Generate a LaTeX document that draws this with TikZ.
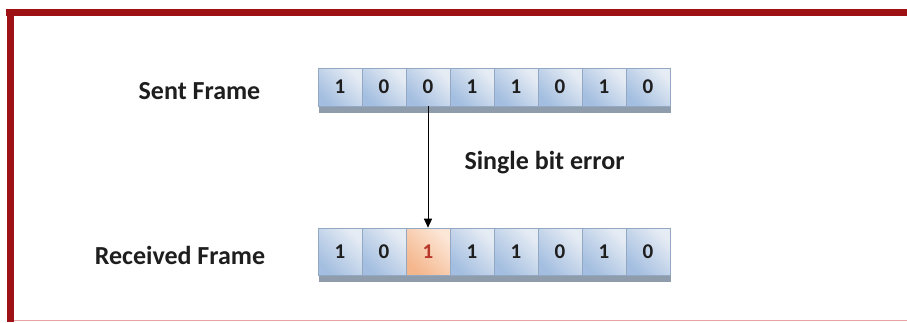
\documentclass[tikz,border=0pt]{standalone}
\usepackage{fontspec}
\setmainfont{Carlito}
\usetikzlibrary{shadows,arrows.meta}

\definecolor{framered}{HTML}{9E1215}
\definecolor{framepink}{HTML}{E9A3A3}
\definecolor{cellDark}{HTML}{A3BEE0}
\definecolor{cellLight}{HTML}{E6ECF4}
\definecolor{cellEdge}{HTML}{93A8C2}
\definecolor{cellShadow}{HTML}{8F9CAC}
\definecolor{errDark}{HTML}{F4B68C}
\definecolor{errLight}{HTML}{FCE6D6}
\definecolor{errText}{HTML}{B8372B}
\definecolor{labelText}{HTML}{1E1E1E}

\begin{document}
\begin{tikzpicture}[x=1pt,y=-1pt,
  bitcell/.style={minimum width=44pt, minimum height=#1, inner sep=0pt,
    draw=cellEdge, line width=0.6pt,
    left color=cellDark, right color=cellLight, shading angle=135,
    font=\bfseries\fontsize{21}{21}\selectfont, text=labelText,
    drop shadow={shadow xshift=1pt, shadow yshift=-7pt, opacity=1, fill=cellShadow}},
  errcell/.style={left color=errDark, right color=errLight, shading angle=135, text=errText},
  framelabel/.style={font=\bfseries\fontsize{26}{26}\selectfont, text=labelText, inner sep=0pt},
]
\useasboundingbox (0,0) rectangle (907,322);
\fill[white] (0,0) rectangle (907,322);

% red frame: thick top and left bands, thin bottom rule
\fill[framered] (6,9) rectangle (907,16);
\fill[framered] (7,9) rectangle (14,322);
\draw[framepink, line width=1.5pt] (14,320.5) -- (907,320.5);

% row labels
\node[framelabel] (sentlbl) at (199.5,91) {Sent Frame};
\node[framelabel] (recvlbl) at (180,255) {Received Frame};

% sent frame bits
\foreach \b [count=\i] in {1,0,0,1,1,0,1,0}
  \node[bitcell=38pt] (s\i) at (296+44*\i,87) {\b};

% received frame bits (third bit flipped)
\foreach \b [count=\i] in {1,0,1,1,1,0,1,0}
  \node[bitcell=47pt] (r\i) at (296+44*\i,251.5) {\b};
\node[bitcell=47pt, errcell] (r3) at (428,251.5) {1};

% error arrow
\draw[line width=1pt, -{Triangle[length=9pt,width=8pt]}] (s3.south) -- (r3.north);
\node[framelabel] (errlbl) at (544.5,163) {Single bit error};
\end{tikzpicture}
\end{document}
